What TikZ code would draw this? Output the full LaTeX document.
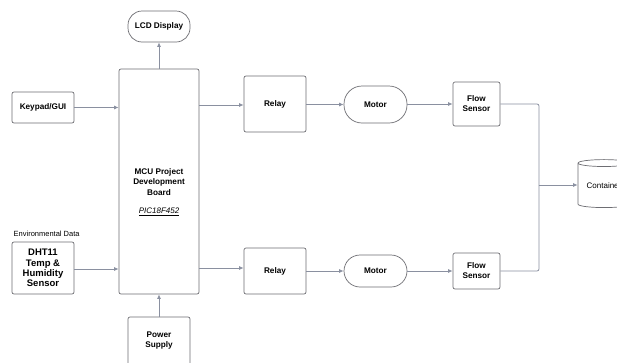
\documentclass[tikz,border=0pt]{standalone}
\usepackage{fontspec}
\setmainfont{Liberation Sans}
\usetikzlibrary{arrows.meta,shapes.geometric}
\definecolor{boxline}{HTML}{6E6E73}
\definecolor{conn}{HTML}{8A90A0}
\tikzset{
  blk/.style={draw=boxline, line width=0.7pt, rounded corners=2pt, align=center,
    font=\fontsize{8.2}{10}\selectfont\bfseries, inner sep=0pt},
  pill/.style={blk, rounded corners=14pt},
  conn/.style={draw=conn, line width=0.8pt, -{Latex[length=4.5pt,width=4pt]}},
  plain/.style={draw=conn, line width=0.8pt, rounded corners=2pt},
}
\begin{document}
\begin{tikzpicture}[x=1pt,y=-1pt]
\path[use as bounding box, clip] (0,0) rectangle (617,362);
\fill[white] (0,0) rectangle (617,362);
% nodes
\node[pill, minimum width=62pt, minimum height=31pt] (lcd) at (159,26.5) {LCD Display};
\node[blk, minimum width=80pt, minimum height=225pt] (mcu) at (159,181.5) {};
\node[align=center, font=\fontsize{8.2}{10.2}\selectfont\bfseries] (mcut) at (159,182) {MCU Project\\Development\\Board};
\node[font=\fontsize{8}{9}\selectfont\itshape] (pic) at (159,212) {\underline{PIC18F452}};
\node[blk, minimum width=62pt, minimum height=31pt] (key) at (43,107.5) {Keypad/GUI};
\node[blk, minimum width=62pt, minimum height=52pt, font=\fontsize{9.5}{10.2}\selectfont\bfseries] (dht) at (43,268) {DHT11\\Temp \&\\Humidity\\Sensor};
\node[font=\fontsize{7.5}{8}\selectfont, anchor=west, inner sep=0pt] (env) at (13.5,234) {Environmental Data};
\node[blk, minimum width=62pt, minimum height=48pt] (pwr) at (159,341) {Power\\Supply};
\node[blk, minimum width=62pt, minimum height=56pt] (r1) at (275,104) {Relay};
\node[blk, minimum width=62pt, minimum height=46pt] (r2) at (275,271) {Relay};
\node[pill, minimum width=63pt, minimum height=37pt, rounded corners=18pt] (m1) at (375.5,104.5) {Motor};
\node[pill, minimum width=63pt, minimum height=32pt, rounded corners=16pt] (m2) at (375.5,271) {Motor};
\node[blk, minimum width=47pt, minimum height=44pt] (f1) at (476.5,104) {Flow\\Sensor};
\node[blk, minimum width=47pt, minimum height=36pt] (f2) at (476.5,271) {Flow\\Sensor};
\node[cylinder, shape border rotate=90, aspect=0.2, draw=boxline, line width=0.7pt,
  minimum width=52pt, minimum height=48pt, inner sep=0pt,
  font=\fontsize{8}{9}\selectfont] (cont) at (604,185.5) {Container};
\coordinate (j) at (539,185);
% connectors
\draw[conn] (mcu.north) -- (lcd.south);
\draw[conn] (key.east) -- (key.east -| mcu.west);
\draw[conn] (dht.east |- 0,269) -- (mcu.west |- 0,269);
\draw[conn] (pwr.north) -- (mcu.south);
\draw[conn] (mcu.east |- 0,105) -- (r1.west |- 0,105);
\draw[conn] (mcu.east |- 0,268) -- (r2.west |- 0,268);
\draw[conn] (r1.east |- 0,104.5) -- (m1.west |- 0,104.5);
\draw[conn] (r2.east |- 0,271) -- (m2.west |- 0,271);
\draw[conn] (m1.east |- 0,104) -- (f1.west |- 0,104);
\draw[conn] (m2.east |- 0,271) -- (f2.west |- 0,271);
\draw[plain] (f1.east |- 0,104) -| (j);
\draw[plain] (f2.east |- 0,271) -| (j);
\draw[conn] (j) -- (j -| cont.west);
\end{tikzpicture}
\end{document}
